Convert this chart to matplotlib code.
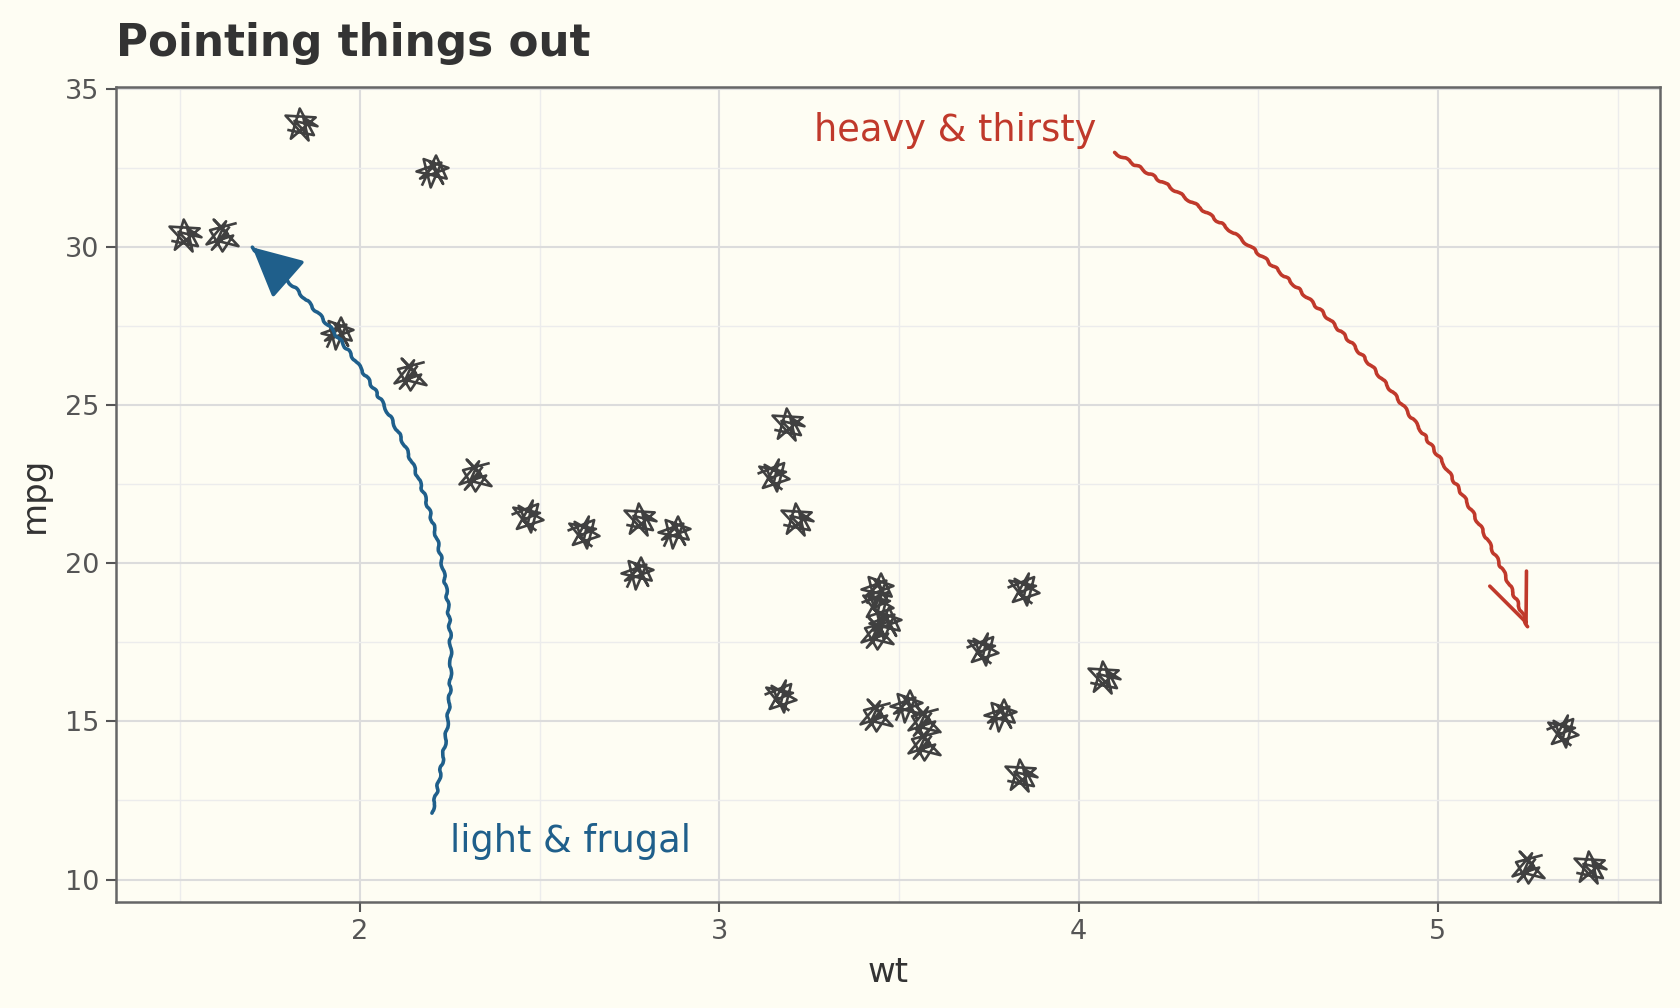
import numpy as np
from matplotlib import pyplot as plt
from matplotlib.path import Path

# mtcars: weight (1000 lbs) and fuel economy
wt = [2.620, 2.875, 2.320, 3.215, 3.440, 3.460, 3.570, 3.190, 3.150, 3.440,
      3.440, 4.070, 3.730, 3.780, 5.250, 5.424, 5.345, 2.200, 1.615, 1.835,
      2.465, 3.520, 3.435, 3.840, 3.845, 1.935, 2.140, 1.513, 3.170, 2.770,
      3.570, 2.780]
mpg = [21.0, 21.0, 22.8, 21.4, 18.7, 18.1, 14.3, 24.4, 22.8, 19.2,
       17.8, 16.4, 17.3, 15.2, 10.4, 10.4, 14.7, 32.4, 30.4, 33.9,
       21.5, 15.5, 15.2, 13.3, 19.2, 27.3, 26.0, 30.4, 15.8, 19.7,
       15.0, 21.4]

x_ticks = [2, 3, 4, 5]
y_ticks = [10, 15, 20, 25, 30, 35]

labels = ["light & frugal", "heavy & thirsty"]
label_x = [2.25, 4.05]
label_y = [11.2, 33.7]
arrow_from = [(2.2, 12.1), (4.1, 33.0)]
arrow_to = [(1.7, 30.0), (5.25, 18.0)]

BG = "#FEFDF3"
INK = "#404040"
BLUE = "#1F5F8B"
RED = "#C0392B"

# hand-drawn looking scribble glyphs used as point markers
scribbles = [
    [(-0.9, 0.1), (0.6, 0.7), (0.2, -0.9), (-0.5, 0.6), (0.9, -0.2), (-0.6, -0.7),
     (0.3, 0.9), (0.0, -0.5), (-0.8, 0.5), (0.7, 0.2), (-0.3, -0.2), (0.5, -0.8)],
    [(-0.6, -0.8), (0.2, 0.9), (0.8, -0.4), (-0.9, 0.0), (0.5, 0.5), (-0.1, -0.9),
     (-0.5, 0.7), (0.9, 0.2), (-0.7, -0.4), (0.1, 0.3), (0.6, -0.7), (-0.2, 0.6)],
    [(0.8, 0.7), (-0.7, 0.3), (0.0, -0.9), (0.6, 0.0), (-0.9, -0.5), (0.2, 0.8),
     (-0.3, -0.3), (0.9, -0.6), (-0.5, 0.9), (0.3, 0.1), (-0.6, -0.8), (0.4, 0.5)],
    [(-0.8, -0.3), (0.7, -0.6), (-0.1, 0.9), (-0.6, -0.8), (0.8, 0.4), (-0.9, 0.5),
     (0.4, -0.9), (0.1, 0.4), (0.9, -0.1), (-0.4, 0.2), (0.2, -0.4)],
]
markers = []
for pts in scribbles:
    codes = [Path.MOVETO] + [Path.LINETO] * (len(pts) - 1)
    markers.append(Path(pts, codes))

fig = plt.figure(figsize=(16.8, 10.08), dpi=100, facecolor=BG)
ax = fig.add_axes([0.0689, 0.1052, 0.919, 0.8085])
ax.set_facecolor(BG)

ax.set_xlim(1.32, 5.617)
ax.set_ylim(9.29, 35.07)

for i, (x, y) in enumerate(zip(wt, mpg)):
    ax.plot([x], [y], linestyle="", marker=markers[i % len(markers)],
            markersize=23, markerfacecolor="none", markeredgecolor=INK,
            markeredgewidth=1.9, zorder=3)

# curved pointers: wobbly shaft + clean head
styles = [("-|>,head_length=1.0,head_width=0.5", BLUE, 0.3, 31),
          ("->,head_length=1.0,head_width=0.42", RED, -0.17, 34)]
for (st, col, rad, ms), p0, p1 in zip(styles, arrow_from, arrow_to):
    shaft = ax.annotate("", xy=p1, xytext=p0,
                        arrowprops=dict(arrowstyle="-", color=col, lw=2.6,
                                        connectionstyle="arc3,rad=%s" % rad,
                                        shrinkA=0, shrinkB=0),
                        zorder=4)
    shaft.arrow_patch.set_sketch_params(1.1, 18, 2)
    # tangent at the end of the arc3 bezier, done in display space
    a = ax.transData.transform(p0)
    b = ax.transData.transform(p1)
    d = b - a
    ctrl = (a + b) / 2 + rad * np.array([d[1], -d[0]])
    t = (b - ctrl) / np.hypot(*(b - ctrl))
    start = ax.transData.inverted().transform(b - 6 * t)
    ax.annotate("", xy=p1, xytext=start,
                arrowprops=dict(arrowstyle=st, color=col, lw=2.6,
                                mutation_scale=ms, shrinkA=0, shrinkB=0,
                                joinstyle="round", capstyle="round"),
                zorder=4)

ax.text(label_x[0], label_y[0], labels[0], color=BLUE, fontsize=26.5,
        ha="left", va="center")
ax.text(label_x[1], label_y[1], labels[1], color=RED, fontsize=26.5,
        ha="right", va="center")

ax.set_xticks(x_ticks)
ax.set_yticks(y_ticks)
ax.set_xticks(np.arange(1.5, 5.6, 1.0), minor=True)
ax.set_yticks(np.arange(12.5, 35, 5.0), minor=True)
ax.grid(which="major", color="#DCDCDC", linewidth=1.5, zorder=0)
ax.grid(which="minor", color="#ECECEC", linewidth=1.0, zorder=0)
ax.set_axisbelow(True)

ax.tick_params(which="major", length=7, width=1.5, color="#555555",
               labelcolor="#555555", labelsize=19.5, pad=5)
ax.tick_params(which="minor", length=0)
for s in ax.spines.values():
    s.set_color("#666666")
    s.set_linewidth(1.8)

ax.set_xlabel("wt", fontsize=24.5, color="#333333", labelpad=8)
ax.set_ylabel("mpg", fontsize=24.5, color="#333333", labelpad=10)
ax.set_title("Pointing things out", fontsize=31.5, fontweight="bold",
             color="#333333", loc="left", pad=22)

fig.savefig("out.png", dpi=100, facecolor=BG)
